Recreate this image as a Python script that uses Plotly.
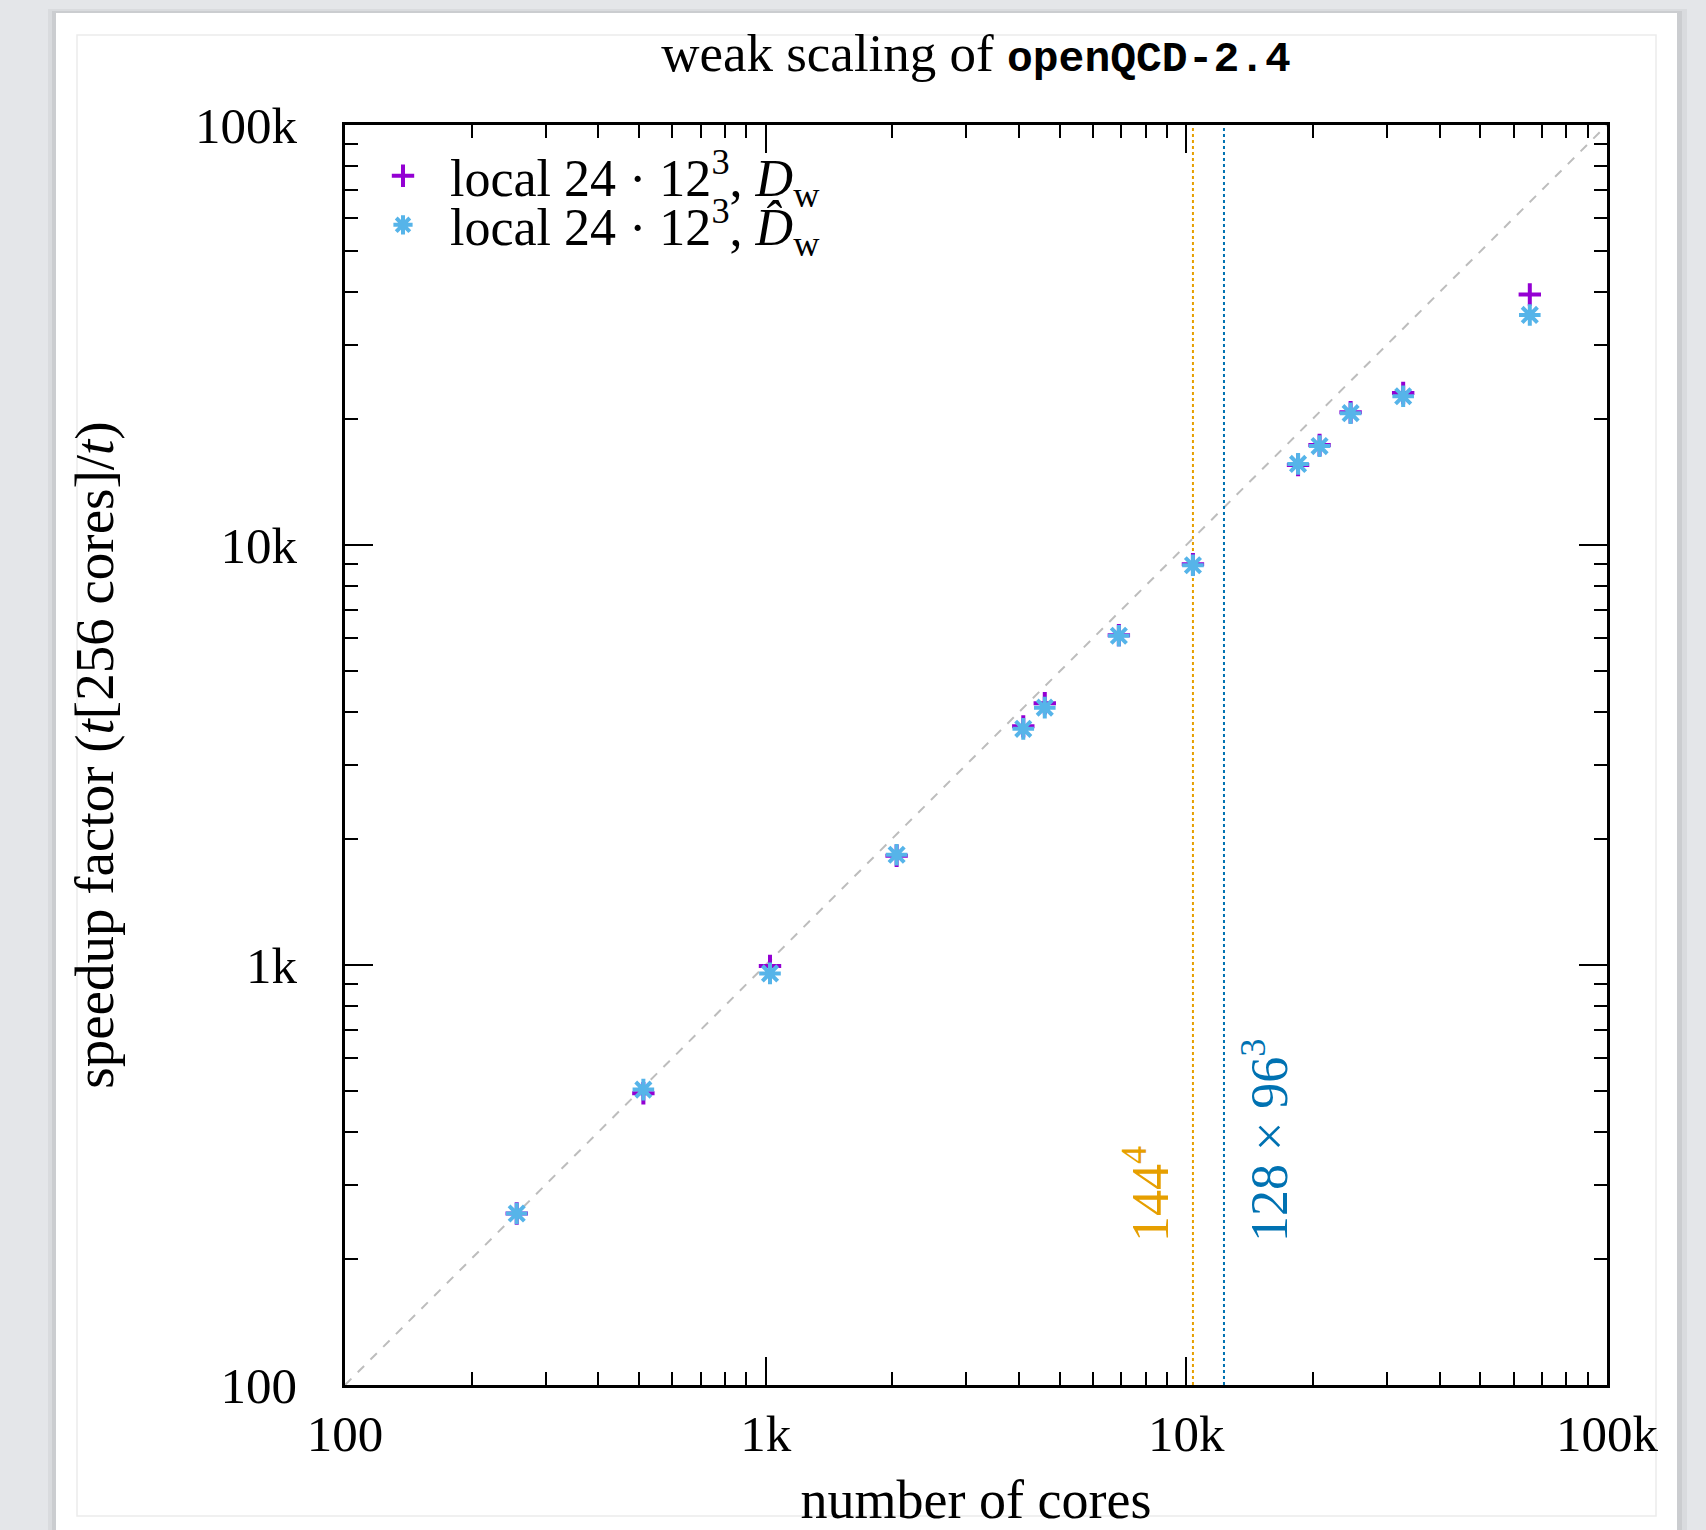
import math
import plotly.graph_objects as go

# ---------------- data ----------------
cores = [256, 512, 1024, 2048, 4096, 4608, 6912, 10368, 18432, 20736, 24576, 32768, 65536]
speedup_Dw = [256, 495, 995, 1820, 3700, 4200, 6100, 9000, 15500, 17300, 20700, 23000, 39500]
speedup_Dwhat = [256, 505, 955, 1830, 3650, 4100, 6080, 8950, 15600, 17200, 20600, 22600, 35300]

ideal_x = [100, 100000]
ideal_y = [100, 100000]

lattice_labels = ["144<sup>4</sup>", "128 × 96<sup>3</sup>"]
lattice_cores = [10368, 12288]
lattice_colors = ["#e69f00", "#0072b2"]

tick_vals = [100, 1000, 10000, 100000]
tick_text = ["100", "1k", "10k", "100k"]
minor_vals = [m * 10 ** e for e in range(2, 5) for m in range(2, 10)]

series_names = [
    "local 24 · 12<sup>3</sup>, <i>D</i><sub>w</sub>",
    "local 24 · 12<sup>3</sup>, <i>D̂</i><sub>w</sub>",
]
purple = "#9400d3"
cyan = "#56b4e9"

SERIF = "Liberation Serif, Times New Roman, serif"
MONO = "Liberation Mono, DejaVu Sans Mono, monospace"

W, H = 1706, 1530
L, R, T, B = 345, 1607, 125, 1385
PW, PH = R - L, B - T


def px_x(p):
    return (p - L) / PW


def px_y(p):
    return (B - p) / PH


fig = go.Figure()

# ideal scaling line
fig.add_trace(go.Scatter(x=ideal_x, y=ideal_y, mode="lines",
                         line=dict(color="#bdbdbd", width=2, dash="dash"),
                         showlegend=False, hoverinfo="skip"))

# lattice markers (vertical dotted lines)
for xv, col in zip(lattice_cores, lattice_colors):
    fig.add_trace(go.Scatter(x=[xv, xv], y=[ideal_y[0], ideal_y[1]], mode="lines",
                             line=dict(color=col, width=2, dash="dot"),
                             showlegend=False, hoverinfo="skip"))

fig.add_trace(go.Scatter(x=cores, y=speedup_Dw, mode="markers", name=series_names[0],
                         marker=dict(symbol="cross-thin-open", size=16, color=purple,
                                     line=dict(color=purple, width=4)),
                         legend="legend"))
fig.add_trace(go.Scatter(x=cores, y=speedup_Dwhat, mode="markers", name=series_names[1],
                         marker=dict(symbol="asterisk-open", size=18, color=cyan,
                                     line=dict(color=cyan, width=4)),
                         legend="legend2"))

# lattice text labels
for lab, xv, col, sh in zip(lattice_labels, lattice_cores, lattice_colors, [-47, 41]):
    fig.add_annotation(x=math.log10(xv), y=px_y(1240), xref="x", yref="paper",
                       text=lab, textangle=-90, showarrow=False,
                       xanchor="center", yanchor="bottom", xshift=sh, yshift=-4,
                       font=dict(family=SERIF, size=52, color=col))

# page background: card with shadow and faint frame
shapes = [
    dict(type="rect", xref="paper", yref="paper", layer="below",
         x0=px_x(48), x1=px_x(1687), y0=px_y(1540), y1=px_y(9),
         fillcolor="#d9dbde", line=dict(width=0)),
    dict(type="rect", xref="paper", yref="paper", layer="below",
         x0=px_x(52), x1=px_x(1682), y0=px_y(1540), y1=px_y(11),
         fillcolor="#cbcdd0", line=dict(width=0)),
    dict(type="rect", xref="paper", yref="paper", layer="below",
         x0=px_x(56), x1=px_x(1677), y0=px_y(1540), y1=px_y(13),
         fillcolor="white", line=dict(width=0)),
    dict(type="rect", xref="paper", yref="paper", layer="below",
         x0=px_x(77), x1=px_x(1656), y0=px_y(1516), y1=px_y(35),
         fillcolor="rgba(0,0,0,0)", line=dict(color="#ebebeb", width=1.5)),
]

axis_common = dict(
    type="log", showgrid=False, zeroline=False,
    showline=True, linecolor="black", linewidth=2.5, mirror="allticks",
    ticks="inside", ticklen=28, tickwidth=2, tickcolor="black",
    tickmode="array", tickvals=tick_vals, ticktext=tick_text,
    tickfont=dict(family=SERIF, size=51, color="black"),
    minor=dict(ticks="inside", ticklen=13, tickwidth=2, tickcolor="black",
               tickmode="array", tickvals=minor_vals, showgrid=False),
    range=[2, 5],
)

legend_common = dict(xanchor="left", yanchor="middle", bgcolor="rgba(0,0,0,0)",
                     borderwidth=0, itemwidth=84,
                     font=dict(family=SERIF, size=52, color="black"))

fig.update_layout(
    width=W, height=H,
    margin=dict(l=L, r=W - R, t=T, b=H - B, autoexpand=False),
    paper_bgcolor="#e4e6e9",
    plot_bgcolor="rgba(0,0,0,0)",
    shapes=shapes,
    title=dict(text="weak scaling of <span style='font-family:" + MONO + ";font-size:43px;font-weight:bold'>openQCD-2.4</span>",
               x=0.5, xref="paper", xanchor="center",
               y=1 - 52 / H, yref="container", yanchor="middle",
               font=dict(family=SERIF, size=53, color="black")),
    xaxis=dict(axis_common,
               ticklabelstandoff=2,
               title=dict(text="number of cores", standoff=45,
                          font=dict(family=SERIF, size=54, color="black"))),
    yaxis=dict(axis_common,
               ticklabelstandoff=35,
               title=dict(text="speedup factor (<i>t</i>[256 cores]/<i>t</i>)", standoff=64,
                          font=dict(family=SERIF, size=55, color="black"))),
    legend=dict(legend_common, x=px_x(356), y=px_y(176)),
    legend2=dict(legend_common, x=px_x(356), y=px_y(225)),
)

fig.write_html("out.html")
